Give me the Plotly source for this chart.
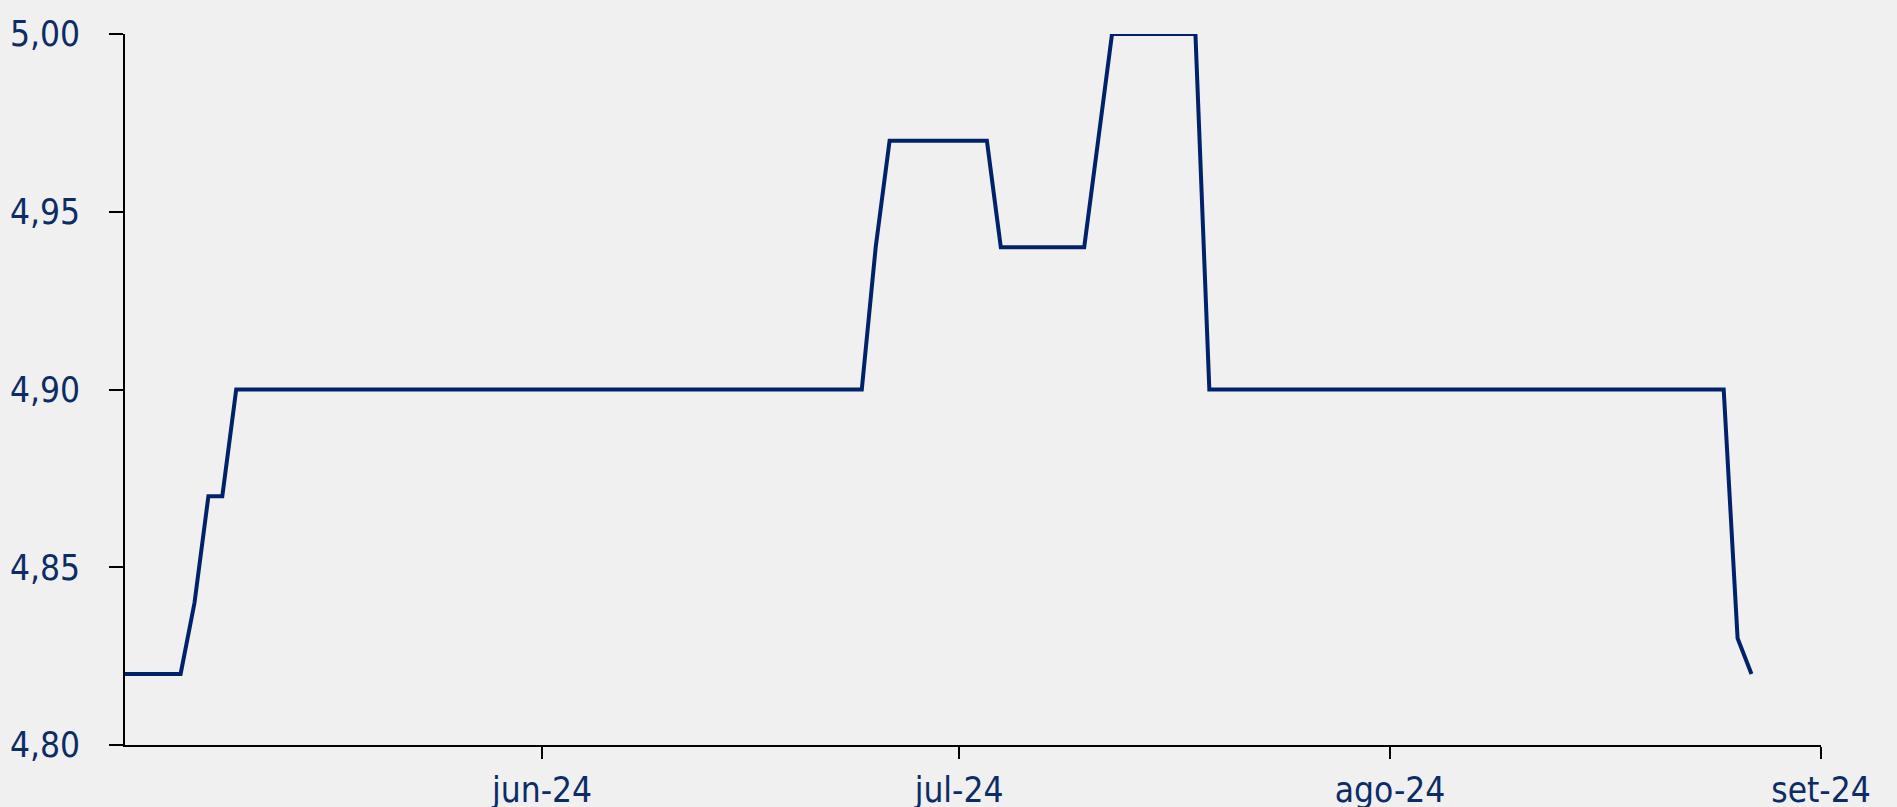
import plotly.graph_objects as go

# breakpoints of the rate series (flat stretches given by their two ends)
dates = ["2024-05-02", "2024-05-06", "2024-05-07", "2024-05-08", "2024-05-09",
         "2024-05-10", "2024-06-24", "2024-06-25", "2024-06-26", "2024-07-03",
         "2024-07-04", "2024-07-10", "2024-07-11", "2024-07-12", "2024-07-18",
         "2024-07-19", "2024-08-25", "2024-08-26", "2024-08-27"]
rates = [4.82, 4.82, 4.84, 4.87, 4.87,
         4.90, 4.90, 4.94, 4.97, 4.97,
         4.94, 4.94, 4.97, 5.00, 5.00,
         4.90, 4.90, 4.83, 4.82]

month_ticks = ["2024-06-01", "2024-07-01", "2024-08-01", "2024-09-01"]
month_labels = ["jun-24", "jul-24", "ago-24", "set-24"]
y_ticks = [4.80, 4.85, 4.90, 4.95, 5.00]

navy = "#00226a"
text_col = "#0c2c66"
bg = "#f0f0f0"

fig = go.Figure()
fig.add_trace(go.Scatter(x=dates, y=rates, mode="lines",
                         line=dict(color=navy, width=4), showlegend=False))

# page has the default 8px body margin, so the figure is shifted by 8px
fig.update_layout(
    width=1881, height=799,
    paper_bgcolor=bg, plot_bgcolor=bg,
    margin=dict(l=117, r=68, t=26, b=62),
    separators=", ",
    font=dict(family="DejaVu Sans Condensed", size=35, color=text_col),
)
fig.update_xaxes(range=["2024-05-02", "2024-09-01"],
                 tickvals=month_ticks, ticktext=month_labels,
                 showgrid=False, zeroline=False, automargin=False,
                 showline=True, linecolor="black", linewidth=2,
                 ticks="outside", ticklen=12, tickwidth=1.5, tickcolor="black",
                 ticklabelstandoff=1)
fig.update_yaxes(range=[4.80, 5.00], tickvals=y_ticks, tickformat=".2f",
                 showgrid=False, zeroline=False, automargin=False,
                 showline=True, linecolor="black", linewidth=2,
                 ticks="outside", ticklen=14, tickwidth=1.5, tickcolor="black",
                 ticklabelstandoff=22)

# paint the page margin in the same grey as the chart
fig.write_html("out.html", post_script="document.body.style.background='%s';" % bg)
